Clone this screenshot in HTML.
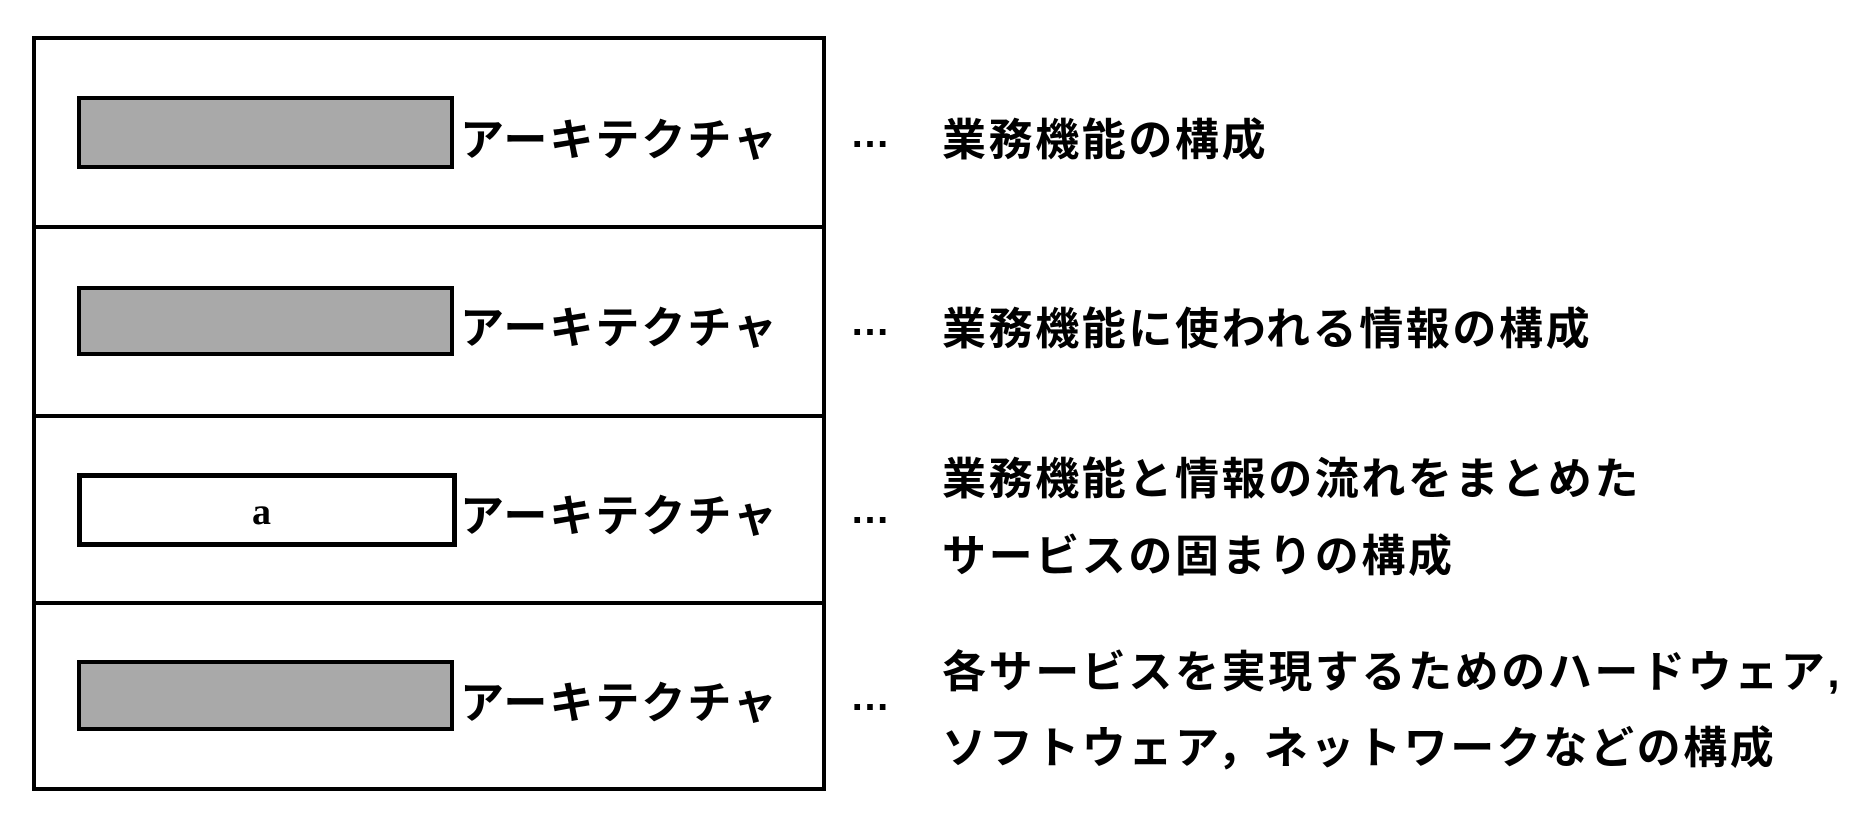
<!DOCTYPE html>
<html><head><meta charset="utf-8"><style>
html,body{margin:0;padding:0;background:#fff;}
body{width:1862px;height:830px;position:relative;overflow:hidden;font-family:"Liberation Sans","Noto Sans CJK JP",sans-serif;color:#000;}
.a{position:absolute;}
.outer{left:32px;top:36px;width:786px;height:747px;border:4px solid #000;}
.div{left:34px;width:790px;height:4px;background:#000;}
.box{left:77px;width:369px;border:4px solid #000;background:#a9a9a9;}
.t{font-size:44px;line-height:44px;letter-spacing:2.6px;white-space:nowrap;font-weight:bold;}
.k{letter-spacing:2px;}
.dots{font-size:40px;line-height:40px;left:850px;font-weight:bold;letter-spacing:0;}
</style></head><body>
<div class="a outer"></div>
<div class="a div" style="top:225px"></div>
<div class="a div" style="top:414px"></div>
<div class="a div" style="top:601px"></div>

<div class="a box" style="top:96px;height:65px"></div>
<div class="a box" style="top:286px;height:62px"></div>
<div class="a box" style="top:473px;height:64px;background:#fff;border-width:5px;left:77px;width:370px"></div>
<div class="a t" style="left:252px;top:490px;font-family:'Liberation Serif',serif;font-size:38px;letter-spacing:0">a</div>
<div class="a box" style="top:660px;height:63px"></div>

<div class="a t k" style="left:460px;top:119px">アーキテクチャ</div>
<div class="a t k" style="left:460px;top:307px">アーキテクチャ</div>
<div class="a t k" style="left:460px;top:495px">アーキテクチャ</div>
<div class="a t k" style="left:460px;top:682px">アーキテクチャ</div>

<div class="a t dots" style="top:114px">…</div>
<div class="a t dots" style="top:302px">…</div>
<div class="a t dots" style="top:490px">…</div>
<div class="a t dots" style="top:677px">…</div>

<div class="a t" style="left:942px;top:119px">業務機能の構成</div>
<div class="a t" style="left:942px;top:308px">業務機能に使われる情報の構成</div>
<div class="a t" style="left:942px;top:458px">業務機能と情報の流れをまとめた</div>
<div class="a t" style="left:942px;top:535px">サービスの固まりの構成</div>
<div class="a t" style="left:942px;top:651px">各サービスを実現するためのハードウェア,</div>
<div class="a t" style="left:942px;top:727px">ソフトウェア，ネットワークなどの構成</div>
</body></html>
